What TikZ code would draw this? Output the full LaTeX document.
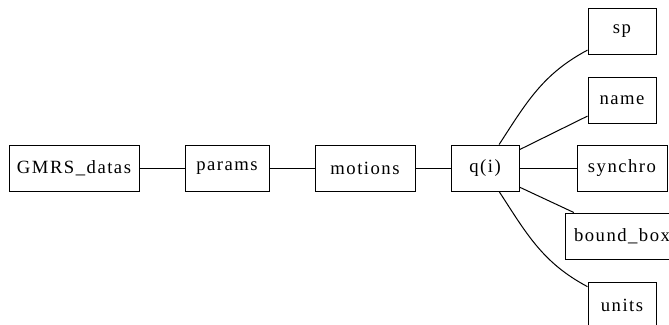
\documentclass[tikz,border=0pt]{standalone}
\usepackage{fontspec}
\usepackage{tikz}
\newfontfamily\fieldfont[LetterSpace=8]{Liberation Serif}

\begin{document}
\begin{tikzpicture}[x=0.75pt,y=-0.75pt]

		\tikzset{
            field/.style={
                draw=black,
                line width=0.75pt,
                minimum width=#1,
                minimum height=34.5pt,
                inner xsep=0pt,
                font=\fieldfont\fontsize{14pt}{16pt}\selectfont
            },
            field/.default=51pt,
            link/.style={
                draw=black,
                line width=0.75pt
            }
        }

        \useasboundingbox (0,0) rectangle (669,325);
        \clip (0,0) rectangle (669,325);

        \node[field=97.5pt] (gmrs) at (74,168) {GMRS\_datas};
        \node[field=63pt] (params) at (227,168) {params};
        \node[field=75pt] (motions) at (365,168) {motions};
        \node[field] (qi) at (485,168) {q(i)};

        \node[field] (sp) at (622,31) {sp};
        \node[field] (name) at (622,100) {name};
        \node[field=67.5pt] (synchro) at (622,168) {synchro};
        \node[field=85.5pt] (bbox) at (622,236) {bound\_box};
        \node[field] (units) at (622,305) {units};

        \draw[link] (gmrs) -- (params);
        \draw[link] (params) -- (motions);
        \draw[link] (motions) -- (qi);

        \draw[link] (qi.59) to[out=57,in=208] (sp.209);
        \draw[link] (qi.28) -- (name.205);
        \draw[link] (qi) -- (synchro);
        \draw[link] (qi.331) -- (bbox.154);
        \draw[link] (qi.301) to[out=-57,in=152] (units.152);

        \end{tikzpicture}
\end{document}
